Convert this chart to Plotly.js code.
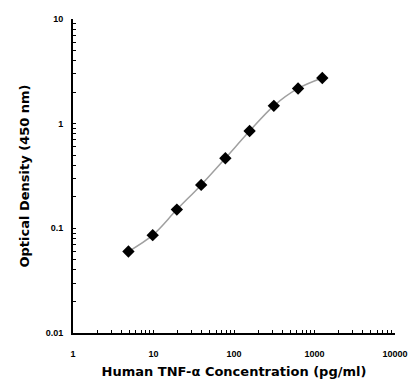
<!DOCTYPE html>
<html>
<head>
<meta charset="utf-8">
<script src="https://cdn.plot.ly/plotly-3.0.1.min.js"></script>
<style>html,body{margin:0;padding:0;background:#fff;}#chart{width:412px;height:379px;}</style>
</head>
<body>
<div id="chart"></div>
<script>
// TNF-alpha standard concentrations (pg/ml)
var concentration = [4.88, 9.77, 19.5, 39.1, 78.1, 156.25, 312.5, 625, 1250];
// Optical density at 450 nm
var opticalDensity = [0.060, 0.086, 0.151, 0.26, 0.467, 0.85, 1.48, 2.17, 2.73];
var xTickVals = [1, 10, 100, 1000, 10000];
var xTickText = ['1', '10', '100', '1000', '10000'];
var yTickVals = [0.01, 0.1, 1, 10];
var yTickText = ['0.01', '0.1', '1', '10'];

var font = 'Liberation Sans, Arial, sans-serif';
var titleFont = 'DejaVu Sans, Liberation Sans, sans-serif';

var trace = {
  x: concentration,
  y: opticalDensity,
  type: 'scatter',
  mode: 'lines+markers',
  line: {color: '#a0a0a0', width: 1.5, shape: 'spline'},
  marker: {symbol: 'diamond', size: 9.5, color: '#000'},
  hoverinfo: 'x+y'
};

var layout = {
  width: 412, height: 379,
  margin: {l: 73, r: 17, t: 19, b: 46},
  paper_bgcolor: '#fff', plot_bgcolor: '#fff',
  showlegend: false,
  font: {family: font, color: '#000'},
  xaxis: {
    type: 'log', range: [0, 4],
    tickvals: xTickVals, ticktext: xTickText,
    showgrid: false, zeroline: false,
    showline: true, linecolor: '#000', linewidth: 2,
    ticks: 'inside', ticklen: 3, tickwidth: 1, tickcolor: '#000',
    minor: {ticks: 'inside', ticklen: 3, tickcolor: '#000', showgrid: false, dtick: 'D1'},
    tickfont: {family: font, size: 9, color: '#000', weight: 'bold'},
    ticklabelstandoff: 11,
    title: {text: '<b>Human TNF-α Concentration (pg/ml)</b>', font: {family: titleFont, size: 13, color: '#000'}, standoff: 9}
  },
  yaxis: {
    type: 'log', range: [-2, 1],
    tickvals: yTickVals, ticktext: yTickText,
    showgrid: false, zeroline: false,
    showline: true, linecolor: '#000', linewidth: 2,
    ticks: 'inside', ticklen: 3, tickwidth: 1, tickcolor: '#000',
    minor: {ticks: 'inside', ticklen: 3, tickcolor: '#000', showgrid: false, dtick: 'D1'},
    tickfont: {family: font, size: 9, color: '#000', weight: 'bold'},
    ticklabelstandoff: 6,
    title: {text: '<b>Optical Density (450 nm)</b>', font: {family: titleFont, size: 13, color: '#000'}, standoff: 13}
  }
};

Plotly.newPlot('chart', [trace], layout, {displayModeBar: false, staticPlot: true});
</script>
</body>
</html>
